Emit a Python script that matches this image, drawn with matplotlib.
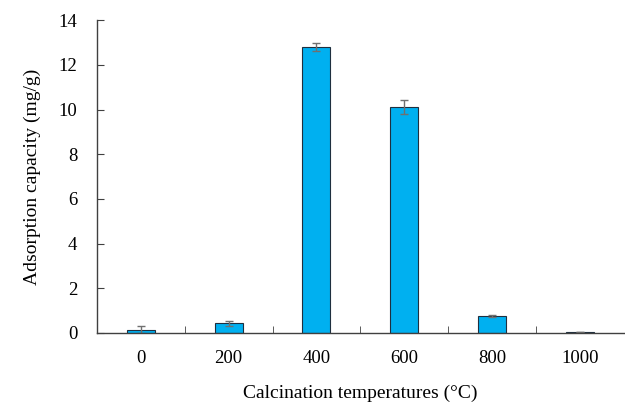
"""Adsorption capacity vs calcination temperature."""

import numpy as np
import matplotlib.pyplot as plt

temps = ["0", "200", "400", "600", "800", "1000"]
capacity = [0.15, 0.42, 12.8, 10.12, 0.76, 0.05]
errors = [0.15, 0.12, 0.17, 0.3, 0.05, 0.0]

plt.rcParams['font.family'] = ['Liberation Serif', 'DejaVu Serif']

fig = plt.figure(figsize=(6.25, 4.03), dpi=100)
ax = fig.add_axes([0.155, 0.174, 0.843, 0.776])

x = np.arange(len(temps))
ax.bar(x, capacity, width=0.32, color='#00B0F0', edgecolor='#1f2f3f', linewidth=0.8,
       yerr=errors, error_kw=dict(ecolor='#707070', elinewidth=1, capsize=3, capthick=1))

ax.set_xlim(-0.5, len(temps) - 0.5)
ax.set_ylim(0, 14)
ax.set_yticks(range(0, 15, 2))
ax.set_xticks(x)
ax.set_xticklabels(temps)
ax.set_xticks(np.arange(0.5, len(temps) - 0.5), minor=True)
ax.tick_params(axis='x', which='major', length=0, pad=12, labelsize=13.5)
ax.tick_params(axis='x', which='minor', direction='in', length=5, color='#404040')
ax.tick_params(axis='y', direction='in', length=5, labelsize=13.5, pad=14, color='#404040')

for side in ['top', 'right']:
    ax.spines[side].set_visible(False)
for side in ['left', 'bottom']:
    ax.spines[side].set_color('#404040')
    ax.spines[side].set_linewidth(1)

ax.set_xlabel("Calcination temperatures (\u00b0C)", fontsize=14, labelpad=13)
ax.set_ylabel("Adsorption capacity (mg/g)", fontsize=14, labelpad=13)

fig.savefig("out.png", dpi=100)
